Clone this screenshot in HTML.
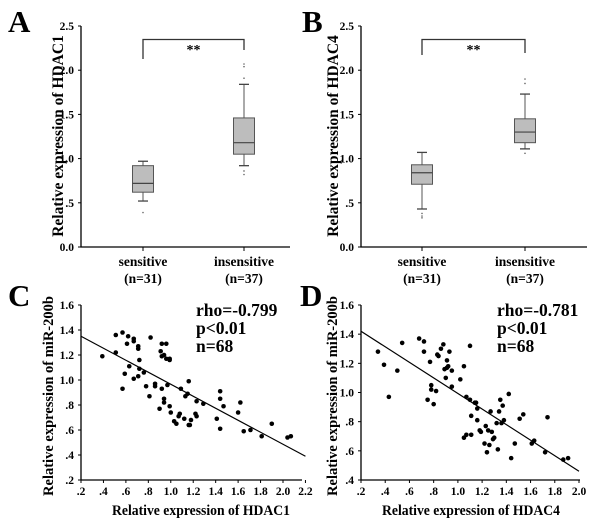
<!DOCTYPE html>
<html><head><meta charset="utf-8"><style>
html,body{margin:0;padding:0;background:#fff;}
svg{display:block;font-family:"Liberation Serif",serif;font-weight:bold;}
svg text{font-weight:bold;}
</style></head><body>
<svg id="fig" width="600" height="525" viewBox="0 0 600 525" xmlns="http://www.w3.org/2000/svg"></svg>
<script>
// ---- Data ----
const boxCategories = ["sensitive", "insensitive"];
const boxCounts = ["(n=31)", "(n=37)"];
const boxTicks = [0, 0.5, 1.0, 1.5, 2.0, 2.5];
const boxTickLabels = ["0.0", ".5", "1.0", "1.5", "2.0", "2.5"];
// [whiskerLow, q1, median, q3, whiskerHigh]
const hdac1Boxes = [[0.52, 0.62, 0.72, 0.92, 0.97], [0.92, 1.05, 1.18, 1.46, 1.84]];
const hdac1Outliers = [[0.39], [0.82, 0.86, 1.91, 2.04, 2.07]];
const hdac4Boxes = [[0.43, 0.71, 0.84, 0.93, 1.07], [1.11, 1.18, 1.30, 1.45, 1.73]];
const hdac4Outliers = [[0.33, 0.35, 0.38], [1.06, 1.85, 1.90]];

const cXTicks = [0.2,0.4,0.6,0.8,1.0,1.2,1.4,1.6,1.8,2.0,2.2];
const cXTickLabels = [".2",".4",".6",".8","1.0","1.2","1.4","1.6","1.8","2.0","2.2"];
const cYTicks = [0.2,0.4,0.6,0.8,1.0,1.2,1.4,1.6];
const cYTickLabels = [".2",".4",".6",".8","1.0","1.2","1.4","1.6"];
const cX = [0.39,0.51,0.51,0.57,0.57,0.59,0.61,0.62,0.63,0.67,0.67,0.67,0.71,0.71,0.71,0.72,0.72,0.76,0.78,0.81,0.82,0.86,0.86,0.90,0.91,0.92,0.92,0.92,0.94,0.94,0.94,0.96,0.96,0.97,0.99,0.99,1.00,0.99,1.03,1.05,1.07,1.08,1.09,1.12,1.13,1.15,1.16,1.16,1.17,1.18,1.22,1.23,1.23,1.29,1.41,1.44,1.44,1.44,1.47,1.60,1.62,1.65,1.71,1.81,1.90,2.04,2.07];
const cY = [1.19,1.36,1.22,1.38,0.93,1.05,1.29,1.35,1.11,1.33,1.31,1.01,1.03,1.27,1.25,1.16,1.09,1.06,0.95,0.87,1.34,0.97,0.95,0.77,1.23,1.19,1.29,0.93,0.82,0.85,1.20,1.29,1.17,0.96,1.17,0.79,0.74,1.16,0.67,0.65,0.71,0.73,0.93,0.69,0.87,0.89,0.99,0.64,0.64,0.68,0.73,0.71,0.83,0.81,0.69,0.91,0.85,0.61,0.79,0.74,0.82,0.59,0.60,0.55,0.65,0.54,0.55];
const cFit = [[0.2, 1.35], [2.2, 0.39]];

const dXTicks = [0.2,0.4,0.6,0.8,1.0,1.2,1.4,1.6,1.8,2.0];
const dXTickLabels = [".2",".4",".6",".8","1.0","1.2","1.4","1.6","1.8","2.0"];
const dYTicks = [0.4,0.6,0.8,1.0,1.2,1.4,1.6];
const dYTickLabels = [".4",".6",".8","1.0","1.2","1.4","1.6"];
const dX = [0.34,0.39,0.43,0.50,0.54,0.68,0.72,0.72,0.75,0.77,0.78,0.78,0.80,0.82,0.83,0.84,0.86,0.88,0.89,0.90,0.91,0.91,0.92,0.93,0.95,0.95,1.02,1.05,1.05,1.07,1.07,1.10,1.10,1.11,1.11,1.14,1.15,1.16,1.16,1.18,1.19,1.22,1.23,1.24,1.25,1.26,1.27,1.28,1.29,1.30,1.32,1.33,1.34,1.35,1.36,1.37,1.38,1.42,1.44,1.47,1.51,1.54,1.61,1.63,1.72,1.74,1.87,1.91];
const dY = [1.28,1.19,0.97,1.15,1.34,1.37,1.35,1.28,0.95,1.21,1.05,1.02,0.92,1.01,1.26,1.25,1.30,1.33,1.16,1.10,1.17,1.22,1.18,1.28,1.15,1.04,1.09,1.18,0.69,0.71,0.97,1.32,0.95,0.71,0.84,0.93,0.93,0.89,0.81,0.74,0.73,0.65,0.77,0.59,0.74,0.64,0.87,0.73,0.68,0.69,0.79,0.61,0.87,0.95,0.79,0.91,0.81,0.99,0.55,0.65,0.82,0.85,0.65,0.67,0.59,0.83,0.54,0.55];
const dFit = [[0.2, 1.42], [2.0, 0.46]];

const NS = "http://www.w3.org/2000/svg";
const svg = document.getElementById("fig");
function el(tag, attrs, parent, text) {
  const e = document.createElementNS(NS, tag);
  for (const k in attrs) e.setAttribute(k, attrs[k]);
  if (tag === "text" && !("font-weight" in attrs)) e.setAttribute("font-weight", "bold");
  if (text !== undefined) e.textContent = text;
  (parent || svg).appendChild(e);
  return e;
}
function lin(d0, d1, r0, r1) { return v => r0 + (v - d0) * (r1 - r0) / (d1 - d0); }

function panelLetter(txt, x, y) {
  const t = el("text", {x: x, y: y, "font-size": 31}, svg, txt);
  
  
}

function boxPanel(opts) {
  const g = el("g", {});
  
  
  const y = lin(0, 2.5, 247, 26);
  const ax = opts.axisX, xEnd = opts.axisEnd;
  const axes = el("path", {d: `M${ax},${y(2.5)} V247 H${xEnd}`, stroke: "#000", "stroke-width": 1.3, fill: "none"}, g);
  
  
  boxTicks.forEach((v, i) => {
    el("line", {x1: ax - 3, x2: ax, y1: y(v), y2: y(v), stroke: "#000"}, g);
    const t = el("text", {x: ax - 7, y: y(v) + 4, "font-size": 11.5, "text-anchor": "end"}, g, boxTickLabels[i]);
    
    
  });
  const yt = el("text", {transform: `translate(${opts.titleX},${opts.titleY}) rotate(-90)`, "font-size": 15.5, "text-anchor": "middle"}, g, opts.title);
  
  
  opts.boxes.forEach((b, i) => {
    const cx = opts.catX[i], w = 21;
    el("line", {x1: cx, x2: cx, y1: 247, y2: 251, stroke: "#000"}, g);
    const cl = el("text", {x: cx, y: 266, "font-size": 13.5, "text-anchor": "middle"}, g, boxCategories[i]);
    
    
    const nl = el("text", {x: cx, y: 283, "font-size": 13.5, "text-anchor": "middle"}, g, boxCounts[i]);
    
    
    const bg = el("g", {}, g);
    
    
    el("line", {x1: cx, x2: cx, y1: y(b[0]), y2: y(b[1]), stroke: "#555"}, bg);
    el("line", {x1: cx, x2: cx, y1: y(b[3]), y2: y(b[4]), stroke: "#555"}, bg);
    el("line", {x1: cx - 5, x2: cx + 5, y1: y(b[0]), y2: y(b[0]), stroke: "#444", "stroke-width": 1.3}, bg);
    el("line", {x1: cx - 5, x2: cx + 5, y1: y(b[4]), y2: y(b[4]), stroke: "#444", "stroke-width": 1.3}, bg);
    el("rect", {x: cx - w / 2, y: y(b[3]), width: w, height: y(b[1]) - y(b[3]), fill: "#bdbdbd", stroke: "#555", "stroke-width": 1}, bg);
    el("line", {x1: cx - w / 2, x2: cx + w / 2, y1: y(b[2]), y2: y(b[2]), stroke: "#444", "stroke-width": 1.2}, bg);
    opts.outliers[i].forEach(v => {
      const o = el("circle", {cx: cx, cy: y(v), r: 0.8, fill: "#666"}, bg);
      
      
    });
  });
  const br = el("path", {d: `M${opts.catX[0]},${opts.brL} V39.5 H${opts.catX[1]} V${opts.brR}`, stroke: "#333", "stroke-width": 1.3, fill: "none"}, g);
  
  
  const st = el("text", {x: (opts.catX[0] + opts.catX[1]) / 2, y: 54, "font-size": 14, "text-anchor": "middle"}, g, "**");
  
  
}

function scatterPanel(o) {
  const g = el("g", {});
  
  
  const x = lin(o.xd[0], o.xd[1], o.xr[0], o.xr[1]);
  const y = lin(o.yd[0], o.yd[1], 480, 305);
  const axes = el("path", {d: `M${o.xr[0]},305 V480 H${o.axisEnd}`, stroke: "#000", "stroke-width": 1.3, fill: "none"}, g);
  
  
  o.yTicks.forEach((v, i) => {
    el("line", {x1: o.xr[0] - 3, x2: o.xr[0], y1: y(v), y2: y(v), stroke: "#000"}, g);
    const t = el("text", {x: o.xr[0] - 7, y: y(v) + 4, "font-size": 11.5, "text-anchor": "end"}, g, o.yLabels[i]);
    
    
  });
  o.xTicks.forEach((v, i) => {
    el("line", {x1: x(v), x2: x(v), y1: 480, y2: 483, stroke: "#000"}, g);
    const t = el("text", {x: x(v), y: 495, "font-size": 11.5, "text-anchor": "middle"}, g, o.xLabels[i]);
    
    
  });
  const xt = el("text", {x: o.xTitleX, y: 515, "font-size": 15, "text-anchor": "middle", textLength: 178, lengthAdjust: "spacingAndGlyphs"}, g, o.xTitle);
  
  
  const yt = el("text", {transform: `translate(${o.yTitleX},396) rotate(-90)`, "font-size": 14.5, "text-anchor": "middle"}, g, "Relative expression of miR-200b");
  
  
  o.xs.forEach((xv, i) => {
    const p = el("circle", {cx: x(xv), cy: y(o.ys[i]), r: 2.3, fill: "#000"}, g);
    
    
  });
  const fl = el("line", {x1: x(o.fit[0][0]), y1: y(o.fit[0][1]), x2: x(o.fit[1][0]), y2: y(o.fit[1][1]), stroke: "#000", "stroke-width": 1.2}, g);
  
  
  o.stats.forEach((s, i) => {
    const t = el("text", {x: o.statX, y: 316 + i * 18, "font-size": 17.5}, g, s);
    
    
  });
}

panelLetter("A", 8, 32);
panelLetter("B", 302, 32);
panelLetter("C", 8, 306);
panelLetter("D", 300, 306);

boxPanel({name: "panel-a-boxplot", axisX: 81, axisEnd: 290, catX: [143, 244], title: "Relative expression of HDAC1",
  titleX: 63, titleY: 136, boxes: hdac1Boxes, outliers: hdac1Outliers, brL: 59, brR: 50});
boxPanel({name: "panel-b-boxplot", axisX: 361, axisEnd: 587, catX: [422, 525], title: "Relative expression of HDAC4",
  titleX: 338, titleY: 136, boxes: hdac4Boxes, outliers: hdac4Outliers, brL: 55, brR: 53});

scatterPanel({name: "panel-c-scatter", xd: [0.2, 2.0], xr: [81, 283], yd: [0.2, 1.6], axisEnd: 302,
  xTicks: cXTicks, xLabels: cXTickLabels, yTicks: cYTicks, yLabels: cYTickLabels,
  xs: cX, ys: cY, fit: cFit, xTitle: "Relative expression of HDAC1", xTitleX: 201, yTitleX: 53,
  stats: ["rho=-0.799", "p<0.01", "n=68"], statX: 196});
scatterPanel({name: "panel-d-scatter", xd: [0.2, 2.0], xr: [361, 579], yd: [0.4, 1.6], axisEnd: 580,
  xTicks: dXTicks, xLabels: dXTickLabels, yTicks: dYTicks, yLabels: dYTickLabels,
  xs: dX, ys: dY, fit: dFit, xTitle: "Relative expression of HDAC4", xTitleX: 471, yTitleX: 337,
  stats: ["rho=-0.781", "p<0.01", "n=68"], statX: 497});
</script>
</body></html>
